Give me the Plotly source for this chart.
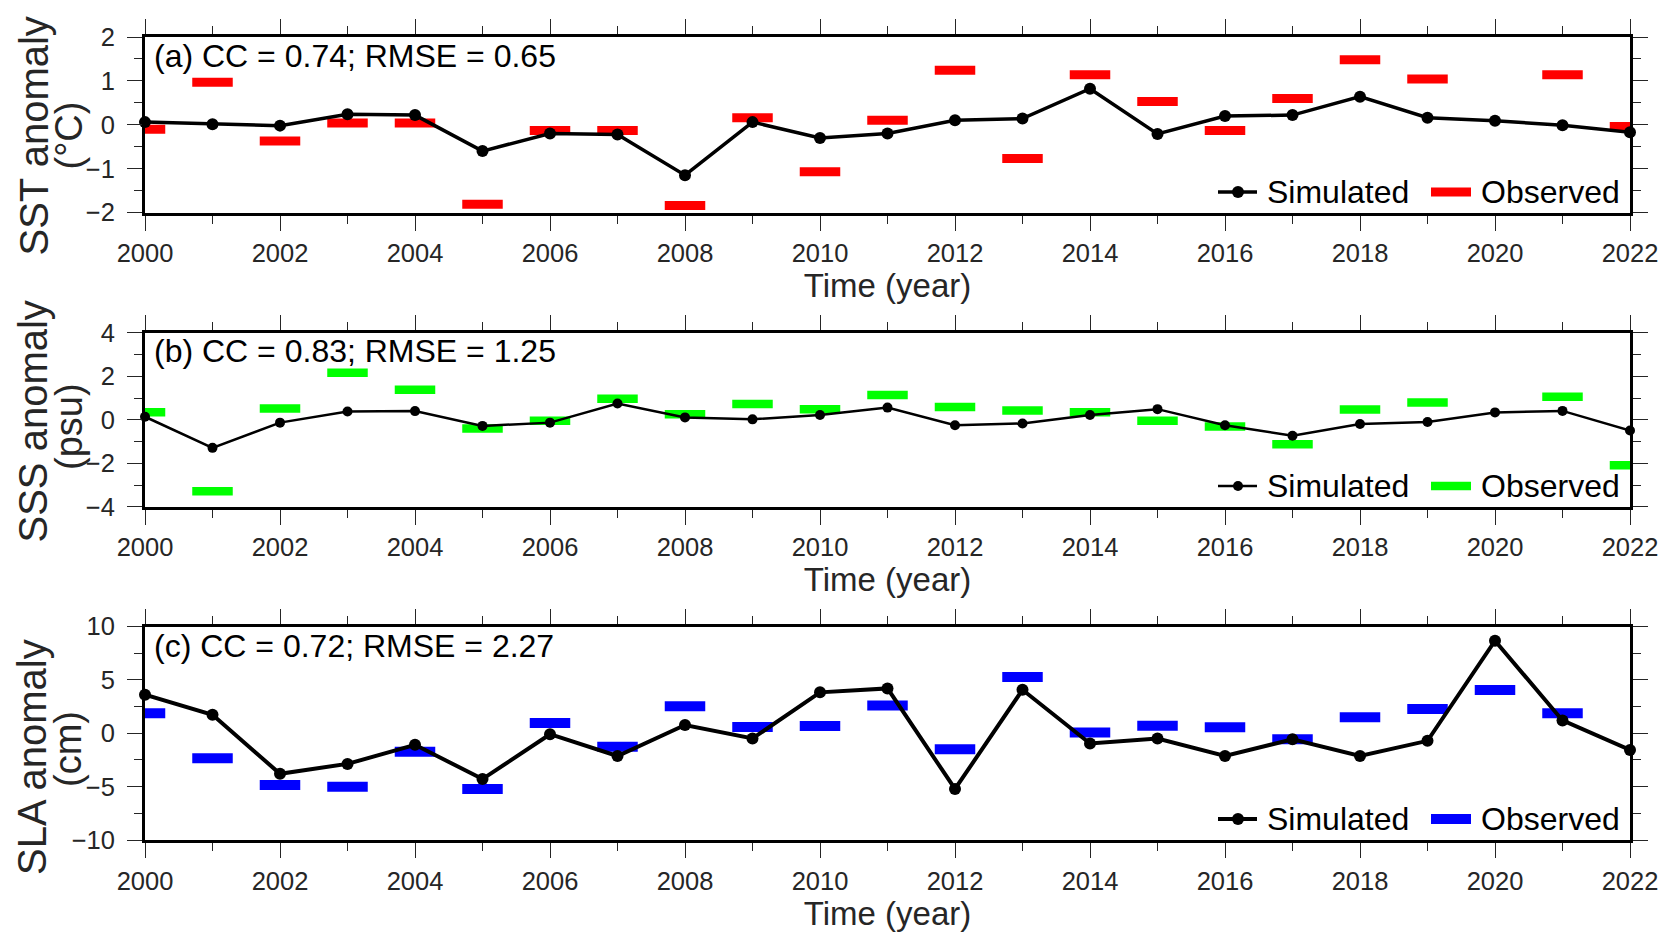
import plotly.graph_objects as go

# ---------------- data ----------------
years = list(range(2000, 2023))
year_ticks = list(range(2000, 2023, 2))

sst_sim = [0.06, 0.01, -0.02, 0.24, 0.22, -0.60, -0.20, -0.22, -1.15, 0.06, -0.30, -0.20,
           0.10, 0.14, 0.82, -0.21, 0.20, 0.22, 0.64, 0.16, 0.09, -0.01, -0.17]
sst_obs = [-0.10, 0.97, -0.37, 0.04, 0.04, -1.81, -0.13, -0.13, -1.84, 0.16, -1.07, 0.10,
           1.24, -0.77, 1.14, 0.53, -0.13, 0.60, 1.48, 1.04, None, 1.14, -0.04]

sss_sim = [0.14, -1.29, -0.13, 0.38, 0.40, -0.28, -0.13, 0.75, 0.11, 0.02, 0.22, 0.56,
           -0.25, -0.17, 0.22, 0.49, -0.25, -0.73, -0.19, -0.10, 0.34, 0.41, -0.49]
sss_obs = [0.35, -3.29, 0.52, 2.16, 1.38, -0.40, -0.04, 0.97, 0.26, 0.73, 0.49, 1.14,
           0.59, 0.43, 0.35, -0.04, -0.31, -1.12, 0.47, 0.79, None, 1.06, -2.09]

sla_sim = [3.61, 1.73, -3.80, -2.87, -1.08, -4.29, -0.09, -2.13, 0.77, -0.49, 3.83, 4.20,
           -5.22, 4.07, -0.96, -0.49, -2.13, -0.56, -2.13, -0.71, 8.67, 1.20, -1.57]
sla_obs = [1.88, -2.35, -4.85, -5.00, -1.73, -5.22, 0.96, -1.27, 2.53, 0.59, 0.68, 2.59,
           -1.51, 5.28, 0.06, 0.71, 0.56, -0.56, 1.51, 2.28, 4.04, 1.88, None]

panel_labels = ["(a) CC = 0.74; RMSE = 0.65",
                "(b) CC = 0.83; RMSE = 1.25",
                "(c) CC = 0.72; RMSE = 2.27"]
y_titles = [("SST anomaly", "(°C)"), ("SSS anomaly", "(psu)"), ("SLA anomaly", "(cm)")]
y_ranges = [[-2, 2], [-4, 4], [-10, 10]]
y_dticks = [1, 2, 5]
y_minor = [0.5, 1, 2.5]
obs_colors = ["#FF0000", "#00FF00", "#0000FF"]

# ---------------- style / geometry ----------------
FONT = "Arial, 'Liberation Sans', Helvetica, sans-serif"
TXT = "#262626"
OFF = 8                      # page body margin
W, H = 1660, 935
L, R, T, B = 137, 38, 29, 103
PW, PH = W - L - R, H - T - B

def pxx(p):                  # page pixel x -> paper x
    return (p - OFF - L) / PW

def pxy(p):                  # page pixel y -> paper y
    return (H - B - (p - OFF)) / PH

# panel inner pixel extents on the page (top, bottom)
panel_px = [(37.0, 212.5), (332.8, 506.8), (626.5, 840.0)]
domains = [[max(0.0, pxy(b)), min(1.0, pxy(t))] for t, b in panel_px]

line_w = [3.5, 2.5, 4.0]
mk_size = [12, 10, 12]
bar_w = [9, 8.5, 10]
HALF = 0.3

label_mid = [56, 350.5, 645.5]
legend_mid = [192, 486, 819]
ytitle_main_x = [33, 32, 32]
ytitle_sub_x = [68, 69, 68]
ytitle_main_y = [136.5, 421.5, 757]
ytitle_sub_y = [135.5, 427, 749]

fig = go.Figure()
sims = [sst_sim, sss_sim, sla_sim]
obss = [sst_obs, sss_obs, sla_obs]

annotations = []
shapes = []

for i in range(3):
    xa = "x" if i == 0 else f"x{i+1}"
    ya = "y" if i == 0 else f"y{i+1}"
    # observed: short horizontal bars
    ox, oy = [], []
    for yr, v in zip(years, obss[i]):
        if v is None:
            continue
        ox += [yr - HALF, yr + HALF, None]
        oy += [v, v, None]
    fig.add_trace(go.Scatter(x=ox, y=oy, mode="lines", name="Observed",
                             line=dict(color=obs_colors[i], width=bar_w[i]),
                             xaxis=xa, yaxis=ya, showlegend=False,
                             hoverinfo="skip"))
    fig.add_trace(go.Scatter(x=years, y=sims[i], mode="lines+markers", name="Simulated",
                             line=dict(color="black", width=line_w[i]),
                             marker=dict(color="black", size=mk_size[i]),
                             xaxis=xa, yaxis=ya, showlegend=False, cliponaxis=False))

    xkey = "xaxis" if i == 0 else f"xaxis{i+1}"
    ykey = "yaxis" if i == 0 else f"yaxis{i+1}"
    fig.update_layout(**{
        xkey: dict(domain=[0, 1], anchor=ya, range=[2000, 2022],
                   tickmode="array", tickvals=year_ticks, ticktext=[str(t) for t in year_ticks],
                   ticks="outside", ticklen=15, tickwidth=1.3, tickcolor=TXT,
                   showline=True, linewidth=3, linecolor="black", mirror="allticks",
                   minor=dict(tick0=2000, dtick=1, ticks="outside", ticklen=8,
                              tickwidth=1.3, tickcolor=TXT, showgrid=False),
                   showgrid=False, zeroline=False, ticklabelstandoff=1,
                   tickfont=dict(size=25.5, color=TXT, family=FONT),
                   title=dict(text="Time (year)", font=dict(size=33, color=TXT, family=FONT),
                              standoff=6)),
        ykey: dict(domain=domains[i], anchor=xa, range=y_ranges[i],
                   tick0=0, dtick=y_dticks[i],
                   ticks="outside", ticklen=15, tickwidth=1.3, tickcolor=TXT,
                   showline=True, linewidth=3, linecolor="black", mirror="allticks",
                   minor=dict(tick0=0, dtick=y_minor[i], ticks="outside", ticklen=8,
                              tickwidth=1.3, tickcolor=TXT, showgrid=False),
                   showgrid=False, zeroline=False, ticklabelstandoff=7,
                   tickfont=dict(size=25.5, color=TXT, family=FONT)),
    })

    # panel label
    annotations.append(dict(text=panel_labels[i], xref="paper", yref="paper",
                            x=pxx(152), y=pxy(label_mid[i]), xanchor="left", yanchor="middle",
                            showarrow=False, font=dict(size=32, color="black", family=FONT)))
    # y titles
    annotations.append(dict(text=y_titles[i][0], xref="paper", yref="paper",
                            x=pxx(ytitle_main_x[i]), y=pxy(ytitle_main_y[i]),
                            xanchor="center", yanchor="middle", textangle=-90,
                            showarrow=False, font=dict(size=40, color=TXT, family=FONT)))
    annotations.append(dict(text=y_titles[i][1], xref="paper", yref="paper",
                            x=pxx(ytitle_sub_x[i]), y=pxy(ytitle_sub_y[i]),
                            xanchor="center", yanchor="middle", textangle=-90,
                            showarrow=False, font=dict(size=38, color=TXT, family=FONT)))
    # legend (inside bottom-right)
    ly = pxy(legend_mid[i])
    shapes.append(dict(type="line", xref="paper", yref="paper",
                       x0=pxx(1218), x1=pxx(1257), y0=ly, y1=ly,
                       line=dict(color="black", width=line_w[i])))
    r = mk_size[i] / 2
    shapes.append(dict(type="circle", xref="paper", yref="paper",
                       x0=pxx(1238 - r), x1=pxx(1238 + r),
                       y0=pxy(legend_mid[i] + r), y1=pxy(legend_mid[i] - r),
                       fillcolor="black", line=dict(width=0)))
    shapes.append(dict(type="line", xref="paper", yref="paper",
                       x0=pxx(1431), x1=pxx(1471), y0=ly, y1=ly,
                       line=dict(color=obs_colors[i], width=bar_w[i])))
    annotations.append(dict(text="Simulated", xref="paper", yref="paper",
                            x=pxx(1265), y=ly, xanchor="left", yanchor="middle",
                            showarrow=False, font=dict(size=32, color="black", family=FONT)))
    annotations.append(dict(text="Observed", xref="paper", yref="paper",
                            x=pxx(1479), y=ly, xanchor="left", yanchor="middle",
                            showarrow=False, font=dict(size=32, color="black", family=FONT)))

fig.update_layout(width=W, height=H, margin=dict(l=L, r=R, t=T, b=B, autoexpand=False),
                  paper_bgcolor="white", plot_bgcolor="white",
                  font=dict(family=FONT, color=TXT),
                  showlegend=False, annotations=annotations, shapes=shapes)

fig.write_html("out.html")
